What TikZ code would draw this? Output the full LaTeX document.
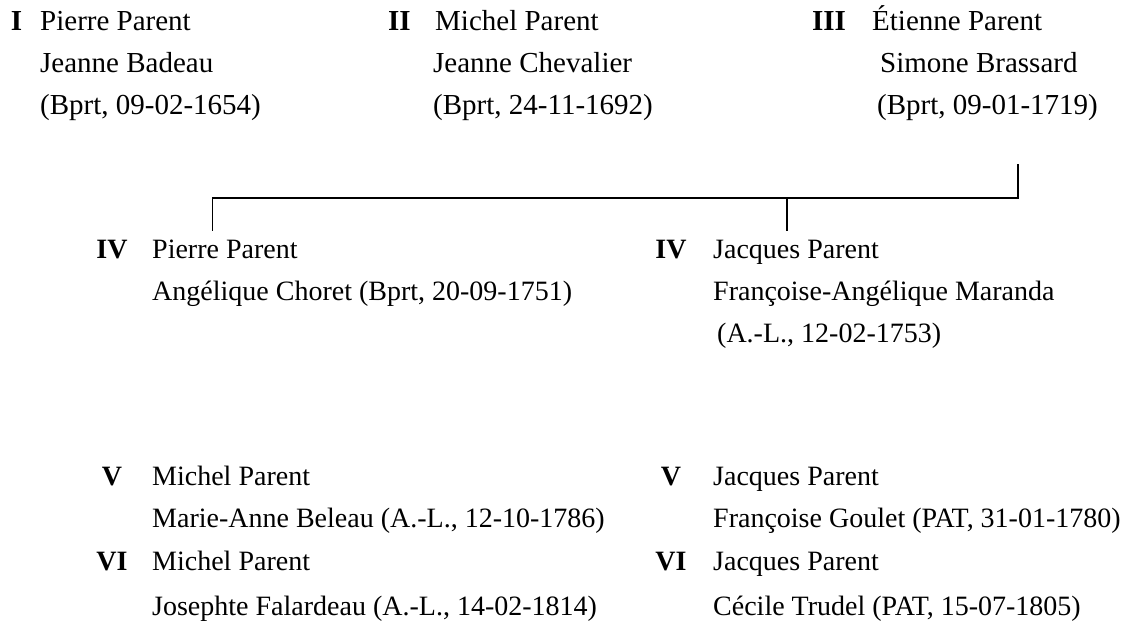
\documentclass[tikz,border=0pt]{standalone}
\usepackage{fontspec}
\setmainfont{Liberation Serif}
\begin{document}
\begin{tikzpicture}[x=1pt,y=-1pt,
  txt/.style={anchor=base west,inner sep=0pt,font=\fontsize{29}{34}\selectfont},
  num/.style={anchor=base,inner sep=0pt,font=\fontsize{29}{34}\selectfont\bfseries},
  ltxt/.style={txt,font=\fontsize{28}{33}\selectfont},
  lnum/.style={num,font=\fontsize{28}{33}\selectfont\bfseries},
  link/.style={line width=1.8pt,line cap=rect}]
\useasboundingbox (0,0) rectangle (1130,641);
% generation I
\node[num] (nI) at (16.5,30) {I};
\node[txt] (a1) at (40,30) {Pierre Parent};
\node[txt] (a2) at (40,72) {Jeanne Badeau};
\node[txt] (a3) at (40,114) {(Bprt, 09-02-1654)};
% generation II
\node[num] (nII) at (399.5,30) {II};
\node[txt] (b1) at (435,30) {Michel Parent};
\node[txt] (b2) at (433,72) {Jeanne Chevalier};
\node[txt] (b3) at (433,114) {(Bprt, 24-11-1692)};
% generation III
\node[num] (nIII) at (829,30) {III};
\node[txt] (c1) at (872,30) {Étienne Parent};
\node[txt] (c2) at (880,72) {Simone Brassard};
\node[txt] (c3) at (877,114) {(Bprt, 09-01-1719)};
% generation IV
\node[lnum] (nIVa) at (112,258) {IV};
\node[ltxt] (d1) at (152,258) {Pierre Parent};
\node[ltxt] (d2) at (152,300) {Angélique Choret (Bprt, 20-09-1751)};
\node[lnum] (nIVb) at (671,258) {IV};
\node[ltxt] (e1) at (713,258) {Jacques Parent};
\node[ltxt] (e2) at (713,300) {Françoise-Angélique Maranda};
\node[ltxt] (e3) at (717,342) {(A.-L., 12-02-1753)};
% generation V
\node[lnum] (nVa) at (112,485) {V};
\node[ltxt] (f1) at (152,485) {Michel Parent};
\node[ltxt] (f2) at (152,527) {Marie-Anne Beleau (A.-L., 12-10-1786)};
\node[lnum] (nVb) at (671,485) {V};
\node[ltxt] (g1) at (713,485) {Jacques Parent};
\node[ltxt] (g2) at (713,527) {Françoise Goulet (PAT, 31-01-1780)};
% generation VI
\node[lnum] (nVIa) at (112,570) {VI};
\node[ltxt] (h1) at (152,570) {Michel Parent};
\node[ltxt] (h2) at (152,615) {Josephte Falardeau (A.-L., 14-02-1814)};
\node[lnum] (nVIb) at (671,570) {VI};
\node[ltxt] (i1) at (713,570) {Jacques Parent};
\node[ltxt] (i2) at (713,615) {Cécile Trudel (PAT, 15-07-1805)};
% connectors
\coordinate (topR) at (1018,165);
\coordinate (barR) at (1018,198);
\coordinate (barL) at (212.5,198);
\coordinate (downL) at (212.5,230);
\coordinate (barM) at (787,198);
\coordinate (downM) at (787,230);
\draw[link] (topR) -- (barR) -- (barL) -- (downL);
\draw[link] (barM) -- (downM);
\end{tikzpicture}
\end{document}
